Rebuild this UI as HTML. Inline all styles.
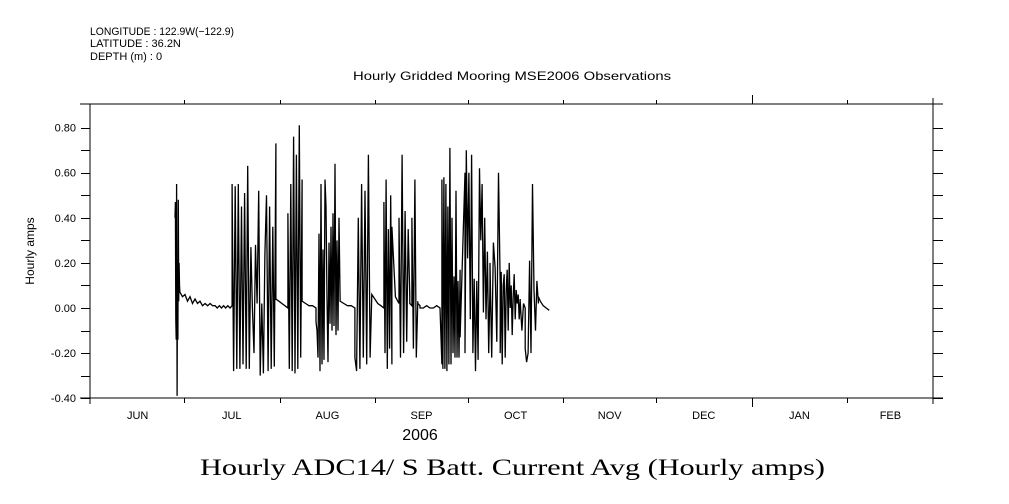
<!DOCTYPE html>
<html><head><meta charset="utf-8"><style>
html,body{margin:0;padding:0;background:#fff;}
svg{display:block;}
text{font-family:"Liberation Sans",sans-serif;fill:#000;}
</style></head><body>
<svg id="chart" width="1009" height="504" viewBox="0 0 1009 504" xmlns="http://www.w3.org/2000/svg">
<g font-size="11">
<text x="90" y="35" textLength="144" lengthAdjust="spacingAndGlyphs">LONGITUDE : 122.9W(−122.9)</text>
<text x="90" y="47">LATITUDE : 36.2N</text>
<text x="90" y="60">DEPTH (m) : 0</text>
</g>
<text x="353" y="80" textLength="318" lengthAdjust="spacingAndGlyphs" font-size="12">Hourly Gridded Mooring MSE2006 Observations</text>
<text x="34" y="251" text-anchor="middle" font-size="12" transform="rotate(-90 34 251)">Hourly amps</text>
<text x="420" y="440" text-anchor="middle" font-size="16">2006</text>
<text x="200" y="475" textLength="625" lengthAdjust="spacingAndGlyphs" font-size="23" style="font-family:'Liberation Serif',serif">Hourly ADC14/ S Batt. Current Avg (Hourly amps)</text>
<g id="axes"></g>
<g id="series"></g>
</svg>
<script>
// Data: segments of hourly current (amps). Days since Jun 1 2006.
const monthLabels = ["JUN","JUL","AUG","SEP","OCT","NOV","DEC","JAN","FEB"];
const monthStartDays = [0,30,61,92,122,153,183,214,245,273];
const yTickValues = [-0.40,-0.20,0.00,0.20,0.40,0.60,0.80];
const segStart = [27.1,28.7,40.1,45.6,59.8,63.7,68.3,72.8,80.6,85.4,90.9,94.8,97.4,99.7,103.2,103.9,105.8,106.5,113.0,113.6,119.5,121.1,129.2,132.5,139.0,140.6,144.9,145.5];
const segEnd   = [28.7,40.1,45.6,59.8,63.7,68.3,72.8,80.6,85.4,90.9,94.8,97.4,99.7,103.2,103.9,105.8,106.5,113.0,113.6,119.5,121.1,129.2,132.5,139.0,140.6,144.9,145.5,148.4];
const segValues = [
 [0.40,0.47,-0.05,-0.14,0.55,-0.39,0.18,-0.14,0.48,0.03,0.20,0.10,0.07],
 [0.07,0.05,0.06,0.03,0.05,0.02,0.04,0.02,0.03,0.01,0.02,0.01,0.02,0.01,0.01],
 [0.01,0.00,0.01,0.00,0.01,0.00,0.01,0.00,0.01],
 [0.55,-0.28,0.54,-0.27,0.55,-0.27,0.45,-0.25,0.51,-0.27,0.63,-0.27,0.27,0.00,-0.20,0.28,0.02,0.52,-0.30,0.02,-0.29,0.24,0.50,-0.28,0.45,-0.27,0.36,-0.26,0.73],
 [0.04,0.03,0.02,0.01,0.00],
 [0.42,-0.27,0.55,-0.28,0.76,-0.29,0.68,-0.27,0.81,-0.22,0.57],
 [0.03,0.02,0.01,0.01,0.00],
 [-0.06,-0.10,-0.22,0.33,-0.28,0.55,-0.25,0.26,-0.23,0.57,0.45,0.04,-0.24,0.29,-0.07,0.36,-0.10,0.42,-0.08,0.64,-0.12,0.30,-0.10,0.40,0.04],
 [0.03,0.02,0.01,0.01,0.00],
 [-0.22,-0.28,0.40,-0.27,0.55,-0.22,0.52,-0.25,0.68,-0.22,0.06],
 [0.06,0.04,0.02,0.01,0.00],
 [0.47,-0.20,0.57,-0.27,0.35,-0.18,0.50,-0.25],
 [0.36,0.05,0.02],
 [0.40,-0.22,0.68,-0.20,0.43,-0.15,0.35,0.05],
 [0.02,0.01],
 [0.40,-0.18,0.57,-0.22,0.03],
 [0.02,0.01],
 [0.00,0.00,0.01,0.00,0.00,0.01,0.00],
 [0.00,-0.25],
 [0.57,-0.27,0.58,-0.27,0.55,-0.28,0.45,-0.25,0.71,-0.25,0.40,-0.20,0.14,-0.22,0.52,-0.22,0.12,-0.22,0.17],
 [-0.13,0.60],
 [-0.20,0.70,0.22,0.60,-0.05,0.68,-0.20,0.13,-0.28,0.12,-0.23,0.62,0.30,0.55,-0.02,0.40,-0.05,0.25,-0.20,0.10],
 [0.20,-0.22,0.29,0.18,-0.15,0.60,0.10],
 [-0.20,0.16,-0.25,0.10,0.15,-0.22,0.08,0.17,-0.10,0.20,0.00,0.10,-0.12,0.05,0.15,-0.05,0.08,0.02,0.06,-0.05,0.04],
 [0.03,-0.10,0.02,0.00],
 [-0.18,-0.24,-0.20,0.21,-0.20,0.55,0.08,-0.10,0.12,0.02],
 [0.05,0.03],
 [0.03,0.01,0.00,-0.01]
];
const NS="http://www.w3.org/2000/svg";
const L=90,R=933,T=104,B=398;
const x0=91.4,pxPerDay=3.085;
function xScale(d){return x0+d*pxPerDay;}
function yScale(v){return 308-v*225.5;}
function el(tag,attrs,parent){const e=document.createElementNS(NS,tag);for(const k in attrs)e.setAttribute(k,attrs[k]);parent.appendChild(e);return e;}
const axes=document.getElementById('axes');
let ln=el('line',{x1:80,y1:T,x2:943,y2:T,stroke:'#000','stroke-width':1},axes);


ln=el('line',{x1:80,y1:B,x2:943,y2:B,stroke:'#000','stroke-width':1},axes);


ln=el('line',{x1:L,y1:T,x2:L,y2:B+6,stroke:'#000','stroke-width':1},axes);


ln=el('line',{x1:R,y1:T-6,x2:R,y2:B+6,stroke:'#000','stroke-width':1},axes);


for(let i=-4;i<=8;i++){
  const y=Math.round(yScale(i/10))+0.5;
  let t=el('line',{x1:81,y1:y,x2:L,y2:y,stroke:'#000'},axes);
  
  
  t=el('line',{x1:R,y1:y,x2:943,y2:y,stroke:'#000'},axes);
  
  
}
yTickValues.forEach(v=>{
  const t=el('text',{x:76,y:yScale(v)+4,'text-anchor':'end','font-size':11},axes);
  t.textContent=v.toFixed(2);
  
  
});
monthStartDays.forEach((d,i)=>{
  const x=Math.round(xScale(d))+0.5;
  const isJan=(d===214);
  if(i>0&&i<monthStartDays.length-1){
    let t=el('line',{x1:x,y1:isJan?95:100,x2:x,y2:T,stroke:'#000'},axes);
    
    
    t=el('line',{x1:x,y1:B,x2:x,y2:isJan?407:403,stroke:'#000'},axes);
    
    
  }
  if(i<monthLabels.length){
    const mid=xScale((d+monthStartDays[i+1])/2);
    const t=el('text',{x:mid,y:419,'text-anchor':'middle','font-size':11},axes);
    t.textContent=monthLabels[i];
    
    
  }
});
let pts=[];
segValues.forEach((vals,s)=>{
  const n=vals.length;
  vals.forEach((v,j)=>{
    const d=n>1?segStart[s]+(segEnd[s]-segStart[s])*j/(n-1):segStart[s];
    pts.push(xScale(d).toFixed(1)+','+yScale(v).toFixed(1));
  });
});
const p=el('polyline',{points:pts.join(' '),fill:'none',stroke:'#000','stroke-width':1.3,'stroke-linejoin':'miter'},document.getElementById('series'));


</script>
</body></html>
